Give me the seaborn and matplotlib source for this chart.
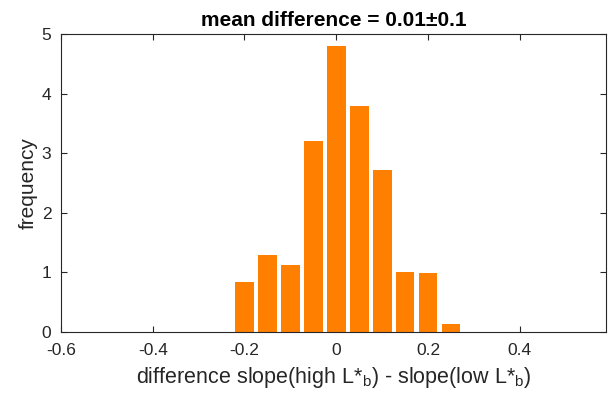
import matplotlib
matplotlib.use("Agg")
import matplotlib.pyplot as plt
import seaborn as sns
import pandas as pd

bin_centers = [-0.20, -0.15, -0.10, -0.05, 0.00, 0.05, 0.10, 0.15, 0.20, 0.25]
frequency = [0.84, 1.30, 1.12, 3.20, 4.80, 3.80, 2.72, 1.01, 0.99, 0.14]
x_ticks = [-0.6, -0.4, -0.2, 0, 0.2, 0.4]
x_tick_labels = ["-0.6", "-0.4", "-0.2", "0", "0.2", "0.4"]
y_ticks = [0, 1, 2, 3, 4, 5]

sns.set_theme(style="white")
plt.rcParams["font.family"] = ["Liberation Sans", "DejaVu Sans"]
plt.rcParams["mathtext.default"] = "regular"

df = pd.DataFrame({"x": bin_centers, "freq": frequency})

fig = plt.figure(figsize=(6.08, 4.03), dpi=100)
ax = fig.add_axes([0.1003, 0.176, 0.8964, 0.7396])
sns.barplot(data=df, x="x", y="freq", native_scale=True, width=0.82,
            color="#FF8000", saturation=1, ax=ax, edgecolor="none")

axc = "#262626"
ax.set_xlim(-0.6, 0.588)
ax.set_ylim(0, 5)
ax.set_xticks(x_ticks)
ax.set_xticklabels(x_tick_labels)
ax.set_yticks(y_ticks)
for s in ax.spines.values():
    s.set_visible(True)
    s.set_color(axc)
    s.set_linewidth(0.8)
ax.tick_params(direction="in", length=4, width=0.8, color=axc, labelcolor=axc,
               labelsize=12.5, top=True, right=True, bottom=True, left=True)
ax.tick_params(axis="x", pad=8)
ax.tick_params(axis="y", pad=7)
for lab in ax.get_yticklabels():
    lab.set_verticalalignment("center_baseline")
ax.set_xlabel("difference slope(high L*$_b$) - slope(low L*$_b$)", fontsize=15.5, color=axc, labelpad=5)
ax.set_ylabel("frequency", fontsize=15, color=axc, labelpad=3)
ax.set_title("mean difference = 0.01\u00b10.1", fontsize=15, fontweight="bold", color="black", pad=6)

fig.savefig("out.png", dpi=100)
